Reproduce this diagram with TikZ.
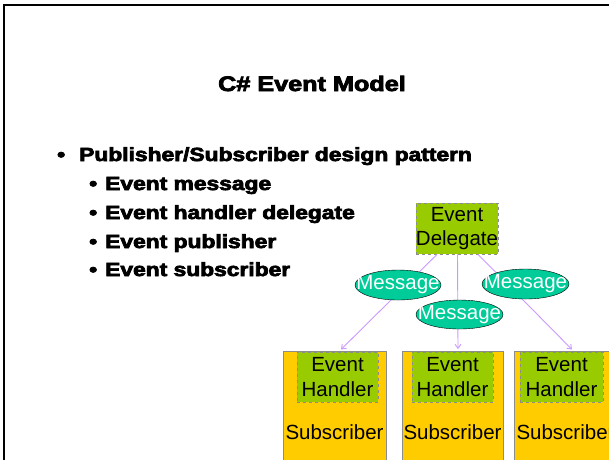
\documentclass[tikz,border=0pt]{standalone}
\usepackage{fontspec}
\setmainfont{Liberation Sans}
\newfontfamily\heavy{Liberation Sans Bold}[FakeBold=3.5]
\usetikzlibrary{arrows.meta,calc,shapes.geometric}
\definecolor{dgreen}{HTML}{99CC00}
\definecolor{teal2}{HTML}{00CC99}
\definecolor{subor}{HTML}{FFCC00}
\definecolor{lilac}{HTML}{CC99FF}
\definecolor{edge}{HTML}{8C8C8C}
\newcommand{\hv}[1]{\scalebox{1.2}[1]{#1}}
\begin{document}
\begin{tikzpicture}[x=1pt,y=-1pt,
  boxtext/.style={font=\fontsize{20.5}{24.5}\selectfont, align=center, inner sep=0pt},
  greenbox/.style={boxtext, fill=dgreen, draw=edge, dashed, line width=0.8pt},
  subbox/.style={fill=subor, draw=edge, line width=1pt, minimum width=103pt, minimum height=130pt, anchor=north, inner sep=0pt},
  msg/.style={ellipse, fill=teal2, draw=black, line width=0.4pt, inner sep=0pt, minimum width=87pt, minimum height=30pt},
  msgtext/.style={text=white, font=\fontsize{20.5}{24}\selectfont, inner sep=0pt},
  conn/.style={lilac, line width=0.9pt, -{Straight Barb[length=4pt,width=6pt]}},
  heavytext/.style={anchor=base west, inner sep=0pt, font=\heavy\fontsize{19}{21}\selectfont}
]
\useasboundingbox (0,0) rectangle (609,459);
\clip (0,0) rectangle (609,459);
\fill[white] (0,0) rectangle (609,459);
% frame
\draw[line width=2pt] (4,470) -- (4,5) -- (620,5);
% title
\node[anchor=base, inner sep=0pt, font=\heavy\fontsize{21}{24}\selectfont] (title) at (312,91) {\scalebox{1.2}[1]{C\# Event Model}};
% bullets
\node[heavytext] (b0) at (57,161) {\hv{•}};
\node[heavytext] (t0) at (79,161) {\hv{Publisher/Subscriber design pattern}};
\node[heavytext] (b1) at (89,190) {\hv{•}};
\node[heavytext] (t1) at (105,190) {\hv{Event message}};
\node[heavytext] (b2) at (89,219) {\hv{•}};
\node[heavytext] (t2) at (105,219) {\hv{Event handler delegate}};
\node[heavytext] (b3) at (89,248) {\hv{•}};
\node[heavytext] (t3) at (105,248) {\hv{Event publisher}};
\node[heavytext] (b4) at (89,276) {\hv{•}};
\node[heavytext] (t4) at (105,276) {\hv{Event subscriber}};
% subscribers
\node[subbox, minimum width=103pt] (s1) at (334.5,351) {};
\node[subbox, minimum width=101pt] (s2) at (452.5,351) {};
\node[subbox, minimum width=103pt] (s3) at (565.5,351) {};
\node[boxtext, anchor=base] (s1l) at (334.5,439) {Subscriber};
\node[boxtext, anchor=base] (s2l) at (452.5,439) {Subscriber};
\node[boxtext, anchor=base] (s3l) at (565.5,439) {Subscriber};
% handlers
\node[greenbox, minimum width=81pt, minimum height=50pt] (h1) at (337.5,377) {Event\\Handler};
\node[greenbox, minimum width=81pt, minimum height=50pt] (h2) at (452.5,377) {Event\\Handler};
\node[greenbox, minimum width=83pt, minimum height=50pt] (h3) at (561.5,377) {Event\\Handler};
% delegate
\node[greenbox, minimum width=82pt, minimum height=51pt] (del) at (457,228.5) {Event\\Delegate};
% connectors
\draw[conn] ($(del.south)+(-20,0)$) -- ($(s1.north)+(6.5,-1.5)$);
\draw[conn] ($(del.south)+(0.5,0)$) -- ($(s2.north)+(5.5,-2)$);
\draw[conn] ($(del.south)+(21,0)$) -- ($(s3.north)+(6.5,-1.5)$);
% messages
\node[msg, minimum width=86pt] (m1) at (398,285) {};
\node[msg] (m2) at (525.5,284) {};
\node[msg, minimum height=29pt] (m3) at (459.5,314.5) {};
\node[msgtext] (m1t) at (m1.center) {Message};
\node[msgtext] (m2t) at (m2.center) {Message};
\node[msgtext] (m3t) at (m3.center) {Message};
\end{tikzpicture}
\end{document}
